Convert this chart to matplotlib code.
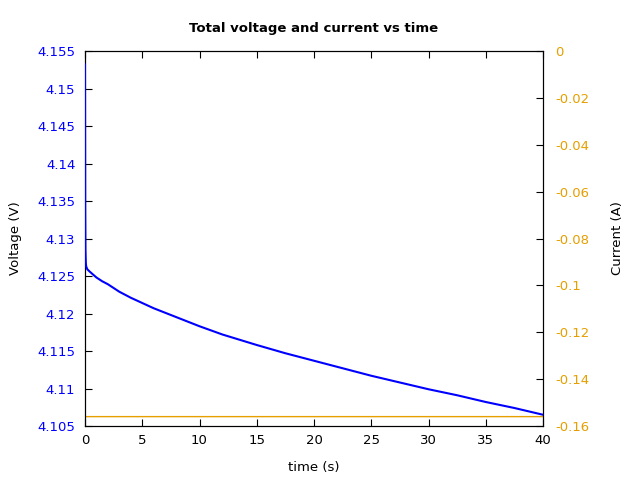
import matplotlib
matplotlib.use('Agg')
import matplotlib.pyplot as plt
from matplotlib.ticker import FuncFormatter

# voltage curve
t_v = [0, 0.01, 0.02, 0.04, 0.07, 0.1, 0.2, 0.4, 0.7, 1, 1.5, 2, 3, 4, 5, 6, 7, 8, 10,
       12, 15, 17.5, 20, 22.5, 25, 27.5, 30, 32.5, 35, 37.5, 40]
voltage = [4.1532, 4.1440, 4.1340, 4.1285, 4.1268, 4.1263, 4.1259, 4.1256, 4.1252, 4.1248,
           4.1243, 4.1239, 4.1229, 4.1221, 4.1214, 4.1207, 4.1201, 4.1195, 4.1183,
           4.1172, 4.1158, 4.1147, 4.1137, 4.1127, 4.1117, 4.1108, 4.1099, 4.1091,
           4.1082, 4.1074, 4.1065]

# current: step from 0 to the discharge value
t_i = [0, 0.02, 40]
current = [0, -0.156, -0.156]

blue = '#0000ff'
orange = '#e69f00'
fs = 9.5


def gp_fmt(v, pos):
    s = '%.3f' % v
    s = s.rstrip('0').rstrip('.')
    if s in ('-0', ''):
        s = '0'
    return s


fig = plt.figure(figsize=(6.4, 4.8), dpi=100)
ax = fig.add_axes([85 / 640, 1 - 426 / 480, (543 - 85) / 640, (426 - 51) / 480])
ax2 = ax.twinx()

ax.plot(t_v, voltage, color=blue, lw=1.5, zorder=3)
ax2.plot(t_i, current, color=orange, lw=1.0)
ax.set_zorder(ax2.get_zorder() + 1)
ax.patch.set_visible(False)

ax.set_xlim(0, 40)
ax.set_ylim(4.105, 4.155)
ax2.set_ylim(-0.16, 0)
ax.set_xticks(range(0, 41, 5))
ax.set_yticks([4.105 + 0.005 * k for k in range(11)])
ax2.set_yticks([-0.02 * k for k in range(9)])
ax.yaxis.set_major_formatter(FuncFormatter(gp_fmt))
ax2.yaxis.set_major_formatter(FuncFormatter(gp_fmt))

ax.tick_params(axis='x', direction='in', top=True, length=5, labelsize=fs, pad=6)
ax.tick_params(axis='y', direction='in', length=5, labelsize=fs, labelcolor=blue, pad=7)
ax2.tick_params(axis='y', direction='in', length=5, labelsize=fs, labelcolor=orange, pad=9)

ax.set_xlabel('time (s)', fontsize=fs, labelpad=10)
ax.set_ylabel('Voltage (V)', fontsize=fs, labelpad=11)
ax2.set_ylabel('Current (A)', fontsize=fs, labelpad=15)
ax.set_title('Total voltage and current vs time', fontsize=fs, fontweight='bold', pad=14)

fig.savefig('out.png', dpi=100)
